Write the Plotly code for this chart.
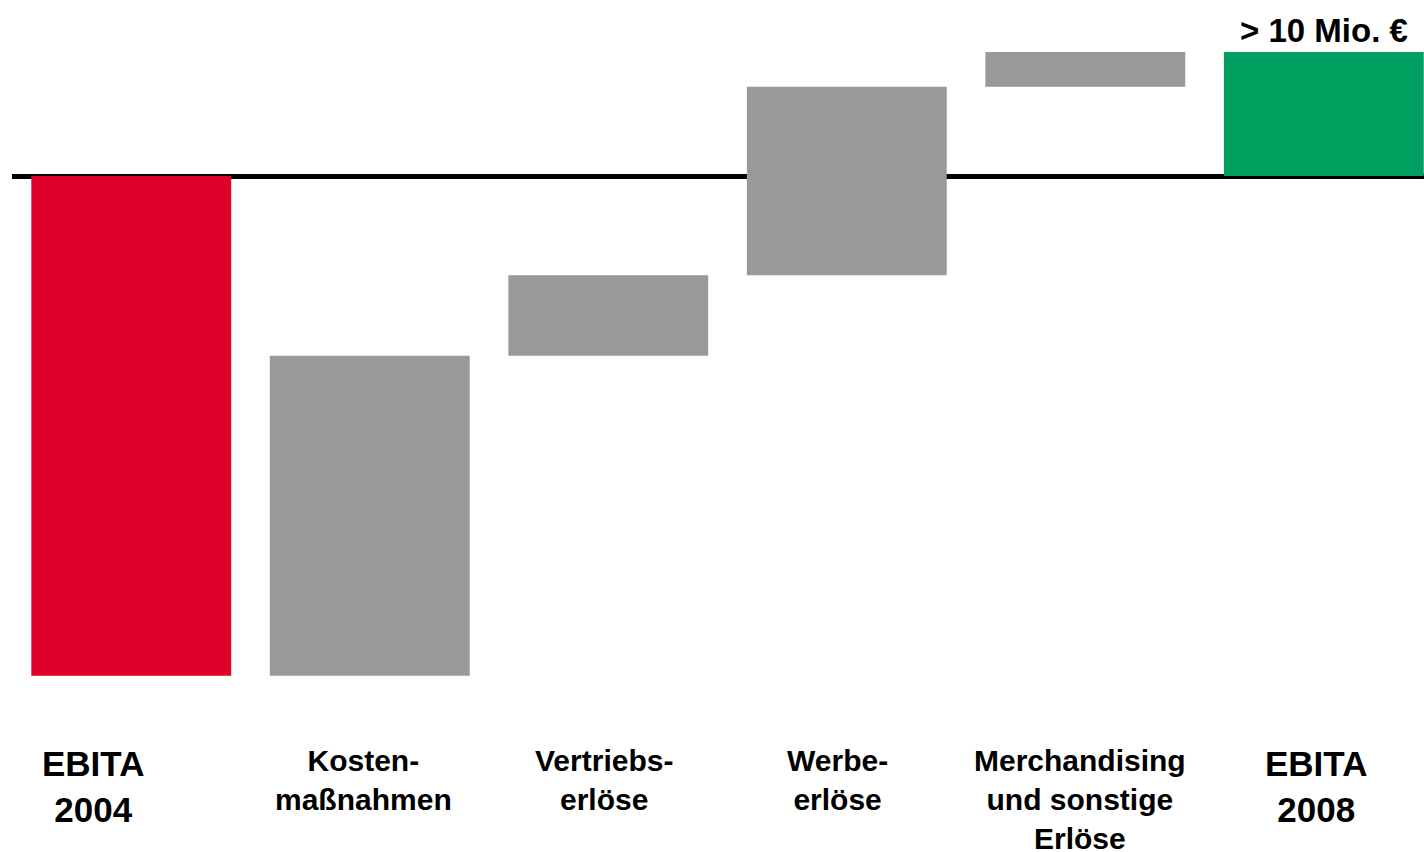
import plotly.graph_objects as go

# Data (Mio. €)
categories = ["EBITA 2004", "Kostenmaßnahmen", "Vertriebserlöse", "Werbeerlöse",
              "Merchandising und sonstige Erlöse", "EBITA 2008"]
changes = [-40.3, 25.8, 6.5, 15.2, 2.8]
measures = ["relative", "relative", "relative", "relative", "relative", "total"]
label_texts = ["EBITA<br>2004", "Kosten-<br>maßnahmen", "Vertriebs-<br>erlöse",
               "Werbe-<br>erlöse", "Merchandising<br>und sonstige<br>Erlöse", "EBITA<br>2008"]
total_label = "> 10 Mio. €"

values = changes + [0]
total = sum(changes)

W, H = 1424, 852
px_per_unit = 12.4
zero_px = 176
y_top = zero_px / px_per_unit
y_bot = -(H - zero_px) / px_per_unit

fig = go.Figure(go.Waterfall(
    x=categories,
    y=values,
    measure=measures,
    width=0.838,
    decreasing=dict(marker=dict(color="#DE0029")),
    increasing=dict(marker=dict(color="#999999")),
    totals=dict(marker=dict(color="#00A062")),
    connector=dict(visible=False),
    showlegend=False,
    hoverinfo="x+y",
))

font_family = "Liberation Sans, Arial, sans-serif"
# category labels
label_x_px = [93, 363, 604, 838, 1080, 1316]
label_sizes = [35, 30, 30, 30, 30, 35]
for txt, xp, fs in zip(label_texts, label_x_px, label_sizes):
    fig.add_annotation(
        text=f"<b>{txt}</b>", xref="paper", yref="paper",
        x=(xp - 12) / (W - 12), y=1 - 742 / H,
        xanchor="center", yanchor="top", showarrow=False, align="center",
        font=dict(family=font_family, size=fs, color="black"),
    )

fig.add_annotation(
    text=f"<b>{total_label}</b>", xref="x", yref="y",
    x=categories[-1], y=total, xanchor="center", yanchor="bottom",
    yshift=1, showarrow=False,
    font=dict(family=font_family, size=33, color="black"),
)

fig.update_layout(
    width=W, height=H,
    margin=dict(l=12, r=0, t=0, b=0),
    paper_bgcolor="white", plot_bgcolor="white",
    xaxis=dict(range=[-0.5, 5.42], showticklabels=False, showgrid=False,
               zeroline=False, showline=False, fixedrange=True),
    yaxis=dict(range=[y_bot, y_top], showticklabels=False, showgrid=False,
               zeroline=True, zerolinecolor="black", zerolinewidth=5,
               showline=False, fixedrange=True),
)

fig.write_html(
    "out.html",
    config={"displayModeBar": False},
    post_script="document.body.style.margin='0';document.body.style.overflow='hidden';",
)
